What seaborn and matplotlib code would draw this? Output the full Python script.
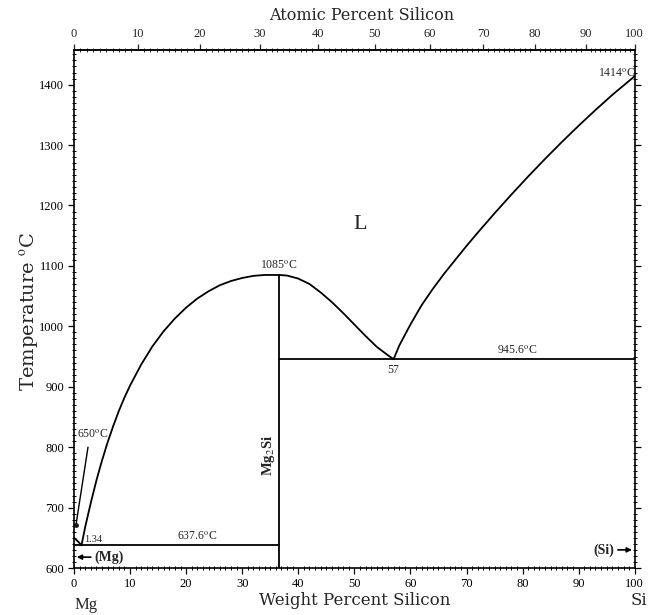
# Mg-Si phase diagram
import numpy as np
import matplotlib
matplotlib.use("Agg")
import matplotlib.pyplot as plt
import seaborn as sns
import pandas as pd
from matplotlib.ticker import MultipleLocator

# ---------------- data (wt% Si, temperature C) ----------------
wt_mg_liq = [0, 0.7, 1.34]
t_mg_liq = [650, 644, 637.6]

wt_liq_left = [1.34, 2, 3, 4, 5, 6, 7, 8, 9, 10, 12, 14, 16, 18, 20,
               22, 24, 26, 28, 30, 32, 34, 36.6]
t_liq_left = [637.6, 668, 708, 745, 778, 808, 835, 860, 882, 902, 937, 967, 992,
              1013, 1031, 1046, 1058, 1068, 1075, 1080, 1083.5, 1085, 1085]

wt_liq_mid = [36.6, 38, 40, 42, 44, 46, 48, 50, 52, 54, 56, 57]
t_liq_mid = [1085, 1084, 1079, 1070, 1056, 1040, 1022, 1003, 984, 966, 952, 945.6]

wt_liq_si = [57, 58, 60, 62, 64, 66, 68, 70, 72, 75, 78, 81, 84, 87, 90, 93, 96, 100]
t_liq_si = [945.6, 968, 1003, 1035, 1062, 1087, 1110, 1133, 1155, 1187, 1218,
            1248, 1277, 1305, 1332, 1358, 1383, 1414]

wt_eut_mg = [0, 36.6]
t_eut_mg = [637.6, 637.6]
wt_eut_si = [36.6, 100]
t_eut_si = [945.6, 945.6]
wt_mg2si = [36.6, 36.6]
t_mg2si = [600, 1085]

M_MG = 24.305
M_SI = 28.086


def wt2at(w):
    w = np.clip(np.asarray(w, dtype=float), 0, 100)
    a = w / M_SI
    b = (100 - w) / M_MG
    return 100 * a / (a + b + 1e-12)


def at2wt(x):
    x = np.clip(np.asarray(x, dtype=float), 0, 100)
    a = x * M_SI
    b = (100 - x) * M_MG
    return 100 * a / (a + b + 1e-12)


# ---------------- plot ----------------
sns.set_theme(style="ticks")
plt.rcParams["font.family"] = ["Liberation Serif", "DejaVu Serif"]
plt.rcParams["mathtext.fontset"] = "stix"

fig = plt.figure(figsize=(6.49, 6.15), dpi=100)
ax = fig.add_axes([0.114, 0.0764, 0.864, 0.842])

curves = [
    (wt_mg_liq, t_mg_liq),
    (wt_liq_left, t_liq_left),
    (wt_liq_mid, t_liq_mid),
    (wt_liq_si, t_liq_si),
    (wt_eut_mg, t_eut_mg),
    (wt_eut_si, t_eut_si),
    (wt_mg2si, t_mg2si),
]
for xs, ys in curves:
    df = pd.DataFrame({"wt": xs, "T": ys})
    sns.lineplot(data=df, x="wt", y="T", ax=ax, color="black", lw=1.3,
                 sort=False, estimator=None, errorbar=None)

ax.set_xlim(0, 100)
ax.set_ylim(600, 1457)
ax.set_xlabel("")
ax.set_ylabel("")

for s in ax.spines.values():
    s.set_linewidth(1.2)
    s.set_color("black")

ax.xaxis.set_major_locator(MultipleLocator(10))
ax.xaxis.set_minor_locator(MultipleLocator(1))
ax.yaxis.set_major_locator(MultipleLocator(100))
ax.yaxis.set_minor_locator(MultipleLocator(10))
ax.tick_params(which="major", direction="out", length=4, width=0.9,
               labelsize=9, pad=3, right=True, colors="black")
ax.tick_params(which="minor", direction="inout", length=3, width=0.7,
               right=True, colors="black")

top = ax.secondary_xaxis("top", functions=(wt2at, at2wt))
top.set_xticks(np.arange(0, 101, 10))
top.set_xticks(np.arange(0, 101, 1), minor=True)
top.tick_params(which="major", direction="out", length=4, width=0.9, labelsize=9, pad=3)
top.tick_params(which="minor", direction="inout", length=3, width=0.7)
top.spines["top"].set_linewidth(1.2)

# axis titles
title_font = ["DejaVu Serif"]
fig.text(0.558, 0.975, "Atomic Percent Silicon", ha="center", va="center",
         fontsize=11.5, family=title_font)
fig.text(0.547, 0.024, "Weight Percent Silicon", ha="center", va="center",
         fontsize=12, family=title_font)
fig.text(0.046, 0.493, "Temperature $^{\\rm o}$C", ha="center", va="center",
         rotation=90, fontsize=14, family=title_font)
fig.text(0.133, 0.016, "Mg", ha="center", va="center", fontsize=12)
fig.text(0.997, 0.024, "Si", ha="right", va="center", fontsize=12, family=title_font)

# annotations
ax.text(51, 1168, "L", fontsize=16, ha="center", va="center")
ax.text(36.6, 1090, "1085$^{\\rm o}$C", fontsize=8.5, ha="center", va="bottom")
ax.text(100.2, 1408, "1414$^{\\rm o}$C", fontsize=8.5, ha="right", va="bottom")
ax.text(79, 950, "945.6$^{\\rm o}$C", fontsize=8.5, ha="center", va="bottom")
ax.text(56.9, 938, "57", fontsize=8.5, ha="center", va="top")
ax.text(21.9, 641, "637.6$^{\\rm o}$C", fontsize=8.5, ha="center", va="bottom")
ax.text(1.8, 640, "1.34", fontsize=7.5, ha="left", va="bottom")
ax.text(0.5, 820, "650$^{\\rm o}$C", fontsize=8.5, ha="left", va="center")
ax.plot([2.5, 0.35], [800, 671], color="black", lw=1)
ax.plot([0.35], [671], "ko", ms=2.5)
ax.text(34.6, 787, "Mg$_2$Si", fontsize=10.5, ha="center", va="center",
        rotation=90, fontweight="bold")

ax.annotate("", xy=(0, 618), xytext=(3.5, 618),
            arrowprops=dict(arrowstyle="-|>", color="black", lw=1.2, mutation_scale=7))
ax.text(3.7, 618, "(Mg)", fontsize=10, ha="left", va="center", fontweight="bold")
ax.annotate("", xy=(100, 630), xytext=(96.5, 630),
            arrowprops=dict(arrowstyle="-|>", color="black", lw=1.2, mutation_scale=7))
ax.text(96.3, 630, "(Si)", fontsize=10, ha="right", va="center", fontweight="bold")

fig.savefig("out.png", dpi=100)
